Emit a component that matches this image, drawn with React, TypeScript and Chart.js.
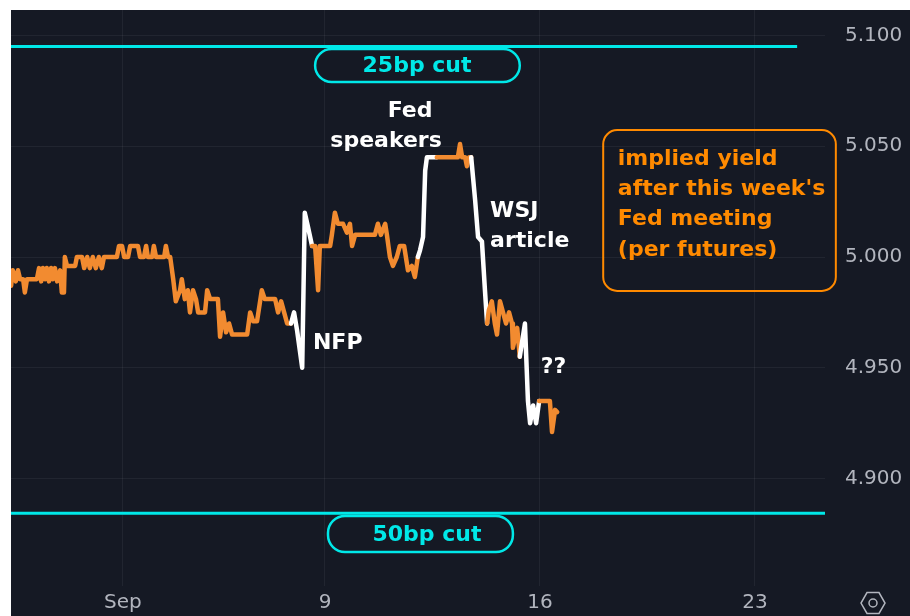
import React, { useEffect, useRef } from "react";
import { Chart, registerables } from "chart.js";

Chart.register(...registerables);

// x values are trading days measured from the start of the "Sep" week
const times = [
  -2.30, -2.26, -2.19, -2.14, -2.09, -2.02, -1.98, -1.93, -1.70, -1.65, -1.60, -1.56, -1.51, -1.47, -1.42, -1.37,
  -1.33, -1.28, -1.23, -1.16, -1.12, -1.07, -1.05, -1.00, -0.81, -0.77, -0.65, -0.60, -0.53, -0.47, -0.40, -0.33,
  -0.26, -0.19, -0.14, 0.16, 0.21, 0.28, 0.33, 0.42, 0.47, 0.65, 0.70, 0.79, 0.84, 0.88, 0.98, 1.02, 1.07, 1.26,
  1.30, 1.35, 1.40, 1.47, 1.53, 1.63, 1.67, 1.74, 1.81, 1.86, 1.93, 2.00, 2.05, 2.21, 2.26, 2.33, 2.51, 2.56, 2.63,
  2.70, 2.77, 2.84, 3.19, 3.26, 3.33, 3.42, 3.53, 3.60, 3.84, 3.91, 3.98, 4.05, 4.12, 4.21,
  4.28, 4.35, 4.47, 4.53, 4.60, 4.70,
  4.77, 4.84, 4.88, 5.12, 5.16, 5.23, 5.30, 5.42, 5.51, 5.58, 5.63, 5.70, 6.16, 6.23, 6.30, 6.40, 6.44, 6.51, 6.58,
  6.67, 6.74, 6.84, 6.93, 7.02, 7.09, 7.16,
  7.21, 7.28, 7.33, 7.37, 7.60,
  8.09, 8.14, 8.19, 8.26, 8.30, 8.35, 8.40,
  8.49, 8.56, 8.65, 8.72, 8.77,
  8.81, 8.88, 8.95, 9.00, 9.07, 9.14, 9.21, 9.28, 9.35, 9.37, 9.47, 9.53,
  9.65, 9.72, 9.77, 9.84, 9.91, 9.98,
  10.23, 10.28, 10.35, 10.40,
];

const yields = [
  4.987, 4.994, 4.989, 4.994, 4.990, 4.990, 4.984, 4.990, 4.990, 4.995, 4.989, 4.995, 4.990, 4.995, 4.989, 4.995,
  4.990, 4.995, 4.989, 4.994, 4.984, 4.984, 5.000, 4.996, 4.996, 5.000, 5.000, 4.995, 5.000, 4.995, 5.000, 4.995,
  5.000, 4.995, 5.000, 5.000, 5.005, 5.005, 5.000, 5.000, 5.005, 5.005, 5.000, 5.000, 5.005, 5.000, 5.000, 5.005, 5.000, 5.000,
  5.005, 5.000, 5.000, 4.990, 4.980, 4.985, 4.990, 4.981, 4.985, 4.975, 4.985, 4.981, 4.975, 4.975, 4.985, 4.981, 4.981, 4.964, 4.975,
  4.966, 4.970, 4.965, 4.965, 4.975, 4.971, 4.971, 4.985, 4.981, 4.981, 4.975, 4.980, 4.975, 4.970, 4.970,
  4.975, 4.967, 4.950, 5.020, 5.014, 5.005,
  5.005, 4.985, 5.005, 5.005, 5.010, 5.020, 5.015, 5.015, 5.011, 5.015, 5.005, 5.010, 5.010, 5.015, 5.010, 5.015, 5.010, 5.000, 4.996,
  5.000, 5.005, 5.005, 4.994, 4.996, 4.991, 5.000,
  5.003, 5.009, 5.039, 5.045, 5.045,
  5.045, 5.051, 5.045, 5.045, 5.041, 5.045, 5.045,
  5.026, 5.009, 5.007, 4.985, 4.970,
  4.976, 4.980, 4.970, 4.965, 4.980, 4.975, 4.970, 4.975, 4.970, 4.959, 4.968, 4.955,
  4.970, 4.935, 4.925, 4.933, 4.925, 4.935,
  4.935, 4.921, 4.931, 4.930,
];

// periods of the big moves, drawn in white
const whiteRanges = [
  [4.21, 4.70],
  [7.16, 7.60],
  [8.40, 8.77],
  [9.53, 9.98],
];

const cut25Level = 5.095;
const cut25End = 15.98;
const cut50Level = 4.8843;

const xMin = -2.302;
const xMax = 16.628;
const yMin = 4.8515;
const yMax = 5.1115;

const yTickValues = [4.9, 4.95, 5.0, 5.05, 5.1];
const xTickValues = [0.3, 5, 10, 15];
const xTickLabels = ["Sep", "9", "16", "23"];

const ORANGE_LINE = "#f28b30";
const ORANGE_TEXT = "#ff8a00";
const CYAN = "#00e8e8";
const BG = "#151924";
const AXIS_TEXT = "#b2b5be";

type Note = { lines: string[]; x: number; y: number; align: CanvasTextAlign; color: string; lineGap: number };

const notes: Note[] = [
  { lines: ["Fed"], x: 6.98, y: 5.0659, align: "center", color: "#ffffff", lineGap: 0 },
  { lines: ["speakers"], x: 6.42, y: 5.0524, align: "center", color: "#ffffff", lineGap: 0 },
  { lines: ["NFP"], x: 4.72, y: 4.9612, align: "left", color: "#ffffff", lineGap: 0 },
  { lines: ["WSJ", "article"], x: 8.84, y: 5.0208, align: "left", color: "#ffffff", lineGap: 0.0136 },
  { lines: ["??"], x: 10.02, y: 4.9503, align: "left", color: "#ffffff", lineGap: 0 },
  {
    lines: ["implied yield", "after this week's", "Fed meeting", "(per futures)"],
    x: 11.81,
    y: 5.0442,
    align: "left",
    color: ORANGE_TEXT,
    lineGap: 0.01365,
  },
];

const pills = [
  { label: "25bp cut", x0: 4.77, x1: 9.53, y0: 5.0939, y1: 5.079, tx: 7.14, color: CYAN },
  { label: "50bp cut", x0: 5.07, x1: 9.37, y0: 4.8831, y1: 4.8668, tx: 7.37, color: CYAN },
];

const noteBox = { x0: 11.47, x1: 16.88, y0: 5.0573, y1: 4.9847, color: ORANGE_TEXT };

function roundRectPath(ctx: CanvasRenderingContext2D, x: number, y: number, w: number, h: number, r: number) {
  const rr = Math.min(r, h / 2, w / 2);
  ctx.beginPath();
  ctx.moveTo(x + rr, y);
  ctx.lineTo(x + w - rr, y);
  ctx.arcTo(x + w, y, x + w, y + rr, rr);
  ctx.lineTo(x + w, y + h - rr);
  ctx.arcTo(x + w, y + h, x + w - rr, y + h, rr);
  ctx.lineTo(x + rr, y + h);
  ctx.arcTo(x, y + h, x, y + h - rr, rr);
  ctx.lineTo(x, y + rr);
  ctx.arcTo(x, y, x + rr, y, rr);
  ctx.closePath();
}

const annotationPlugin = {
  id: "annotations",
  beforeDraw(chart: any) {
    const { ctx, width, height } = chart;
    ctx.save();
    ctx.fillStyle = BG;
    ctx.fillRect(0, 0, width, height);
    ctx.restore();
  },
  afterDraw(chart: any) {
    const { ctx } = chart;
    const xs = chart.scales.x;
    const ys = chart.scales.y;
    const px = (v: number) => xs.getPixelForValue(v);
    const py = (v: number) => ys.getPixelForValue(v);
    ctx.save();
    ctx.font = "bold 22px 'DejaVu Sans'";
    ctx.textBaseline = "middle";

    // pills
    for (const p of pills) {
      const x0 = px(p.x0), x1 = px(p.x1), y0 = py(p.y0), y1 = py(p.y1);
      ctx.lineWidth = 2.5;
      ctx.strokeStyle = p.color;
      roundRectPath(ctx, x0, y0, x1 - x0, y1 - y0, 17);
      ctx.fillStyle = BG;
      ctx.fill();
      ctx.stroke();
      ctx.fillStyle = p.color;
      ctx.textAlign = "center";
      ctx.fillText(p.label, px(p.tx), (y0 + y1) / 2 + 1);
    }

    // orange note box
    {
      const x0 = px(noteBox.x0), x1 = px(noteBox.x1), y0 = py(noteBox.y0), y1 = py(noteBox.y1);
      ctx.lineWidth = 2;
      ctx.strokeStyle = noteBox.color;
      roundRectPath(ctx, x0, y0, x1 - x0, y1 - y0, 14);
      ctx.stroke();
    }

    for (const n of notes) {
      ctx.fillStyle = n.color;
      ctx.textAlign = n.align;
      n.lines.forEach((line, i) => {
        ctx.fillText(line, px(n.x), py(n.y - i * n.lineGap));
      });
    }

    // settings icon bottom-right
    const cx = chart.width - 37;
    const cy = chart.height - 13;
    ctx.strokeStyle = AXIS_TEXT;
    ctx.lineWidth = 1.5;
    ctx.beginPath();
    for (let i = 0; i < 6; i++) {
      const a = (Math.PI / 3) * i;
      const hx = cx + 12 * Math.cos(a);
      const hy = cy + 12 * Math.sin(a);
      if (i === 0) ctx.moveTo(hx, hy);
      else ctx.lineTo(hx, hy);
    }
    ctx.closePath();
    ctx.stroke();
    ctx.beginPath();
    ctx.arc(cx, cy, 4, 0, Math.PI * 2);
    ctx.stroke();
    ctx.restore();
  },
};

function isWhite(a: number, b: number) {
  return whiteRanges.some(([s, e]) => a >= s - 1e-9 && b <= e + 1e-9);
}

export default function App() {
  const canvasRef = useRef<HTMLCanvasElement | null>(null);

  useEffect(() => {
    const canvas = canvasRef.current;
    if (!canvas) return;
    const priceData = times.map((t, i) => ({ x: t, y: yields[i] }));
    const chart = new Chart(canvas, {
      type: "line",
      data: {
        datasets: [
          {
            label: "25bp cut",
            data: [
              { x: xMin, y: cut25Level },
              { x: cut25End, y: cut25Level },
            ],
            borderColor: CYAN,
            borderWidth: 3,
            pointRadius: 0,
          },
          {
            label: "50bp cut",
            data: [
              { x: xMin, y: cut50Level },
              { x: xMax, y: cut50Level },
            ],
            borderColor: CYAN,
            borderWidth: 3,
            pointRadius: 0,
          },
          {
            label: "implied yield",
            data: priceData,
            borderColor: ORANGE_LINE,
            borderWidth: 4.5,
            pointRadius: 0,
            tension: 0,
            borderJoinStyle: "round",
            borderCapStyle: "round",
            segment: {
              borderColor: (c: any) =>
                isWhite(times[c.p0DataIndex], times[c.p1DataIndex]) ? "#ffffff" : ORANGE_LINE,
            },
          } as any,
        ],
      },
      options: {
        animation: false,
        responsive: false,
        layout: { padding: 0 },
        plugins: { legend: { display: false }, tooltip: { enabled: false } },
        scales: {
          x: {
            type: "linear",
            min: xMin,
            max: xMax,
            afterBuildTicks: (s: any) => {
              s.ticks = xTickValues.map((v) => ({ value: v }));
            },
            afterFit: (s: any) => {
              s.height = 30;
              s.paddingLeft = 0;
              s.paddingRight = 0;
              s.paddingTop = 0;
              s.paddingBottom = 0;
            },
            grid: { color: "rgba(255,255,255,0.055)", drawTicks: false },
            border: { display: false },
            ticks: {
              autoSkip: false,
              maxRotation: 0,
              padding: 5,
              color: AXIS_TEXT,
              font: { family: "'DejaVu Sans'", size: 20 },
              callback: (v: any) => {
                const i = xTickValues.indexOf(Number(v));
                return i >= 0 ? xTickLabels[i] : "";
              },
            },
          },
          y: {
            type: "linear",
            position: "right",
            min: yMin,
            max: yMax,
            afterBuildTicks: (s: any) => {
              s.ticks = yTickValues.map((v) => ({ value: v }));
            },
            afterFit: (s: any) => {
              s.width = 85;
              s.paddingTop = 0;
              s.paddingBottom = 0;
              s.paddingLeft = 0;
              s.paddingRight = 0;
            },
            grid: { color: "rgba(255,255,255,0.055)", drawTicks: false },
            border: { display: false },
            ticks: {
              padding: 20,
              color: AXIS_TEXT,
              font: { family: "'DejaVu Sans'", size: 20 },
              callback: (v: any) => Number(v).toFixed(3),
            },
          },
        },
      },
      plugins: [annotationPlugin],
    });
    return () => chart.destroy();
  }, []);

  return (
    <div style={{ position: "absolute", left: 11, top: 10, width: 899, height: 606, background: BG }}>
      <canvas ref={canvasRef} width={899} height={606} style={{ display: "block" }} />
    </div>
  );
}
